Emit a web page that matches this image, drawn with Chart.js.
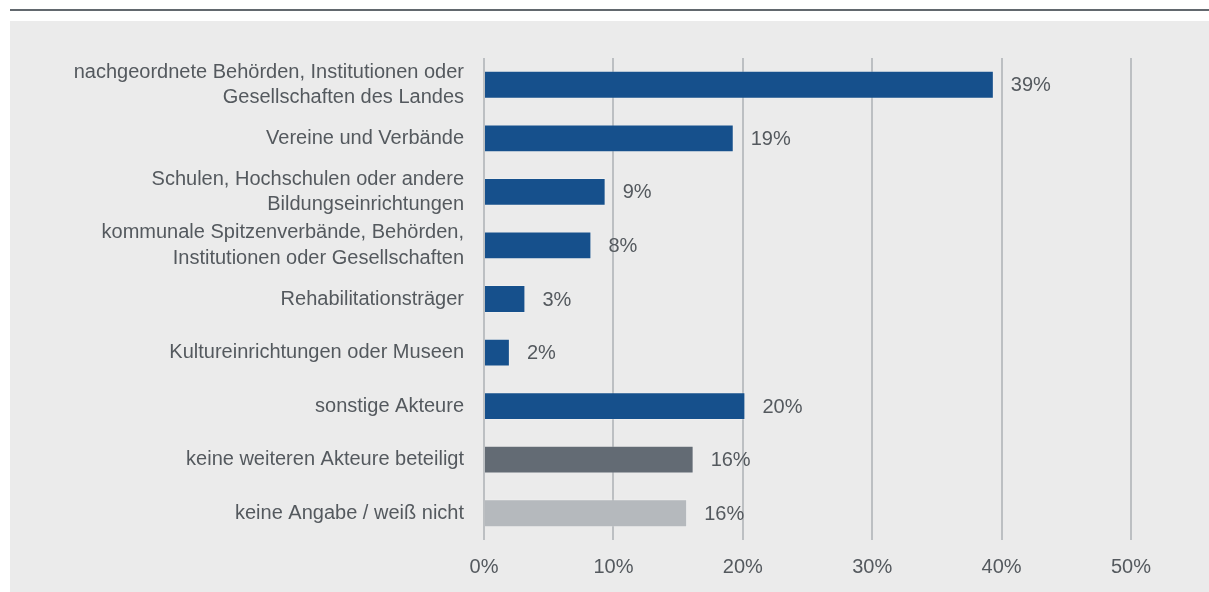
<!DOCTYPE html>
<html>
<head>
<meta charset="utf-8">
<script src="https://cdn.jsdelivr.net/npm/chart.js@4.4.1/dist/chart.umd.min.js"></script>
<style>
  body { margin: 0; background: #fff; width: 1209px; height: 592px; overflow: hidden; position: relative; }
  #topline { position: absolute; left: 10px; top: 9px; width: 1199px; height: 2px; background: #62686e; }
  #panel { position: absolute; left: 10px; top: 21px; width: 1199px; height: 571px; background: #ebebeb; }
</style>
</head>
<body>
<div id="topline"></div>
<div id="panel"><canvas id="chart" width="1199" height="571"></canvas></div>
<script>
// categories (multi-line labels as arrays)
const categories = [
    ["nachgeordnete Behörden, Institutionen oder", "Gesellschaften des Landes"],
    "Vereine und Verbände",
    ["Schulen, Hochschulen oder andere", "Bildungseinrichtungen"],
    ["kommunale Spitzenverbände, Behörden,", "Institutionen oder Gesellschaften"],
    "Rehabilitationsträger",
    "Kultureinrichtungen oder Museen",
    "sonstige Akteure",
    "keine weiteren Akteure beteiligt",
    "keine Angabe / weiß nicht"
];
// shares in percent
const shares = [39.4, 19.3, 9.4, 8.3, 3.2, 2.0, 20.2, 16.2, 15.7];
// labels printed next to the bars
const shareLabels = ["39%", "19%", "9%", "8%", "3%", "2%", "20%", "16%", "16%"];
const barColors = ["#16508c", "#16508c", "#16508c", "#16508c", "#16508c", "#16508c", "#16508c", "#636b74", "#b5b9bd"];
const xTicks = [0, 10, 20, 30, 40, 50];

const textColor = "#54595e";
const fontFamily = "'Liberation Sans', Arial, sans-serif";

// draws the value label to the right of each bar
const valueLabels = {
    id: "valueLabels",
    afterDatasetsDraw(chart) {
        const ctx = chart.ctx;
        const meta = chart.getDatasetMeta(0);
        ctx.save();
        ctx.font = "20px " + fontFamily;
        ctx.fillStyle = textColor;
        ctx.textAlign = "left";
        ctx.textBaseline = "middle";
        meta.data.forEach((bar, i) => {
            ctx.fillText(shareLabels[i], bar.x + 17, bar.y + 1);
        });
        ctx.restore();
    }
};

const config = {
    type: "bar",
    data: {
        labels: categories,
        datasets: [{
            data: shares,
            backgroundColor: barColors,
            borderColor: "rgba(255,255,255,0.2)",
            borderWidth: 1,
            barPercentage: 0.52,
            categoryPercentage: 1.0
        }]
    },
    options: {
        indexAxis: "y",
        responsive: false,
        animation: false,
        layout: { padding: { top: 37, right: 78, left: 0, bottom: 0 } },
        plugins: {
            legend: { display: false },
            tooltip: { enabled: false }
        },
        scales: {
            x: {
                min: 0,
                max: 50,
                afterBuildTicks(axis) {
                    axis.ticks = xTicks.map(v => ({ value: v }));
                },
                afterFit(axis) { axis.height = 52; },
                border: { display: false },
                grid: { color: "#bcbfc2", lineWidth: 2, drawTicks: false },
                ticks: {
                    padding: 15,
                    color: textColor,
                    font: { family: fontFamily, size: 20 },
                    callback: v => v + "%"
                }
            },
            y: {
                afterFit(axis) { axis.width = 474; },
                border: { display: false },
                grid: { display: false },
                ticks: {
                    padding: 12,
                    color: textColor,
                    font: { family: fontFamily, size: 20, lineHeight: 1.26 }
                }
            }
        }
    },
    plugins: [valueLabels]
};

window.onload = function () {
    new Chart(document.getElementById("chart").getContext("2d"), config);
};
</script>
</body>
</html>
